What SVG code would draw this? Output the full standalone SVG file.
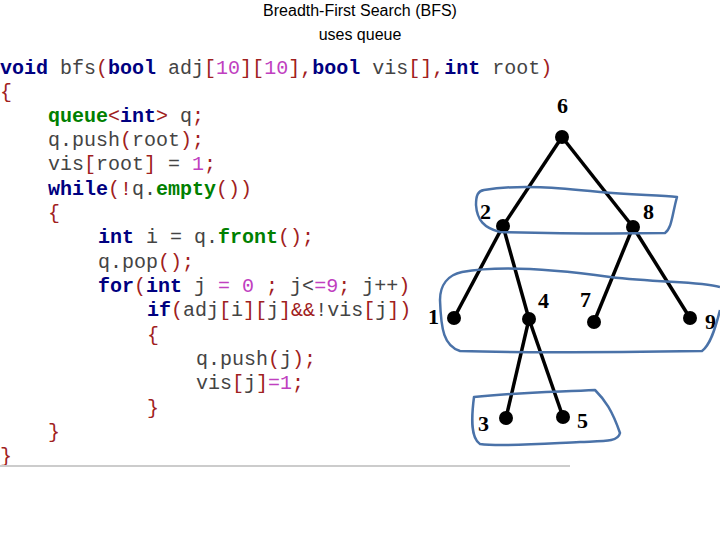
<svg xmlns="http://www.w3.org/2000/svg" width="720" height="540" viewBox="0 0 720 540">
<style>
.t{font-family:"Liberation Sans",Arial,sans-serif;font-size:16px;fill:#000;text-anchor:middle}
.c{font-family:"Liberation Mono","Courier New",monospace;font-size:20px;fill:#444;white-space:pre}
.k{fill:#000080;font-weight:bold}
.g{fill:#008000;font-weight:bold}
.p{fill:#a02020}
.n{fill:#c040c0}
.lbl{font-family:"Liberation Serif","Times New Roman",serif;font-size:22px;font-weight:bold;fill:#000}
.e{stroke:#000;stroke-width:3.5}
.v{fill:#000}
.o{fill:none;stroke:#4a72a8;stroke-width:2.5;stroke-linejoin:round}
</style>
<rect width="720" height="540" fill="#fff"/>
<text class="t" x="360" y="16">Breadth-First Search (BFS)</text>
<text class="t" x="360" y="40">uses queue</text>
<g id="code" xml:space="preserve">
<text class="c" x="0" y="74"><tspan class="k">void</tspan> bfs<tspan class="p">(</tspan><tspan class="k">bool</tspan> adj<tspan class="p">[</tspan><tspan class="n">10</tspan><tspan class="p">][</tspan><tspan class="n">10</tspan><tspan class="p">],</tspan><tspan class="k">bool</tspan> vis<tspan class="p">[],</tspan><tspan class="k">int</tspan> root<tspan class="p">)</tspan></text>
<text class="c" x="0" y="98"><tspan class="p">{</tspan></text>
<text class="c" x="48" y="122"><tspan class="g">queue</tspan><tspan class="p">&lt;</tspan><tspan class="k">int</tspan><tspan class="p">&gt;</tspan> q<tspan class="p">;</tspan></text>
<text class="c" x="48" y="146">q.push<tspan class="p">(</tspan>root<tspan class="p">);</tspan></text>
<text class="c" x="48" y="170">vis<tspan class="p">[</tspan>root<tspan class="p">]</tspan> = <tspan class="n">1</tspan><tspan class="p">;</tspan></text>
<text class="c" x="48" y="195"><tspan class="k">while</tspan><tspan class="p">(!</tspan>q.<tspan class="g">empty</tspan><tspan class="p">())</tspan></text>
<text class="c" x="48" y="219"><tspan class="p">{</tspan></text>
<text class="c" x="98" y="243"><tspan class="k">int</tspan> i = q.<tspan class="g">front</tspan><tspan class="p">();</tspan></text>
<text class="c" x="98" y="268">q.pop<tspan class="p">();</tspan></text>
<text class="c" x="98" y="292"><tspan class="k">for</tspan><tspan class="p">(</tspan><tspan class="k">int</tspan> j <tspan class="n">= 0</tspan> <tspan class="p">;</tspan> j&lt;<tspan class="n">=9</tspan><tspan class="p">;</tspan> j++<tspan class="p">)</tspan></text>
<text class="c" x="147" y="316"><tspan class="k">if</tspan><tspan class="p">(</tspan>adj<tspan class="p">[</tspan>i<tspan class="p">][</tspan>j<tspan class="p">]&amp;&amp;</tspan>!vis<tspan class="p">[</tspan>j<tspan class="p">])</tspan></text>
<text class="c" x="147" y="341"><tspan class="p">{</tspan></text>
<text class="c" x="196" y="365">q.push<tspan class="p">(</tspan>j<tspan class="p">);</tspan></text>
<text class="c" x="196" y="389">vis<tspan class="p">[</tspan>j<tspan class="p">]</tspan><tspan class="n">=1</tspan><tspan class="p">;</tspan></text>
<text class="c" x="147" y="414"><tspan class="p">}</tspan></text>
<text class="c" x="48" y="438"><tspan class="p">}</tspan></text>
<text class="c" x="0" y="462"><tspan class="p">}</tspan></text>
<line x1="0" y1="466" x2="570" y2="466" stroke="#ccc" stroke-width="2"/>
</g>
<g id="connectors">
<line class="e" x1="562" y1="137" x2="503" y2="226"/>
<line class="e" x1="562" y1="137" x2="633" y2="227"/>
<line class="e" x1="503" y1="226" x2="454" y2="318"/>
<line class="e" x1="503" y1="226" x2="529" y2="319"/>
<line class="e" x1="633" y1="227" x2="594" y2="322"/>
<line class="e" x1="633" y1="227" x2="690" y2="318"/>
<line class="e" x1="529" y1="319" x2="506" y2="418"/>
<line class="e" x1="529" y1="319" x2="563" y2="417"/>
</g>
<g id="n6"><circle class="v" cx="562" cy="137" r="7"/><text class="lbl" x="557" y="113">6</text></g>
<g id="n2"><circle class="v" cx="503" cy="226" r="7"/><text class="lbl" x="480" y="219">2</text></g>
<g id="n8"><circle class="v" cx="633" cy="227" r="7"/><text class="lbl" x="643" y="219">8</text></g>
<g id="n1"><circle class="v" cx="454" cy="318" r="7"/><text class="lbl" x="428" y="324">1</text></g>
<g id="n4"><circle class="v" cx="529" cy="319" r="7"/><text class="lbl" x="538" y="308">4</text></g>
<g id="n7"><circle class="v" cx="594" cy="322" r="7"/><text class="lbl" x="580" y="307">7</text></g>
<g id="n9"><circle class="v" cx="690" cy="318" r="7"/><text class="lbl" x="705" y="329">9</text></g>
<g id="n3"><circle class="v" cx="506" cy="418" r="7"/><text class="lbl" x="478" y="431">3</text></g>
<g id="n5"><circle class="v" cx="563" cy="417" r="7"/><text class="lbl" x="577" y="428">5</text></g>
<g id="outlines">
<path class="o" d="M484 190 C520 184 560 188 600 192 C630 195 660 195 677 197 C672 215 672 228 665 233 C610 234 540 233 500 232 C484 228 477 220 476 205 C476 195 478 191 484 190 Z"/>
<path class="o" d="M462 272 C500 265 560 270 610 277 C660 283 700 281 720 287 M720 310 C715 330 710 345 702 351 C630 352 520 353 460 351 C444 346 441 330 440 300 C440 285 448 275 462 272"/>
<path class="o" d="M474 397 C520 392 560 392 595 390 C605 400 612 410 620 433 C618 442 605 441 580 442 C540 444 500 447 480 444 C471 438 471 420 474 397 Z"/>
</g>
</svg>
